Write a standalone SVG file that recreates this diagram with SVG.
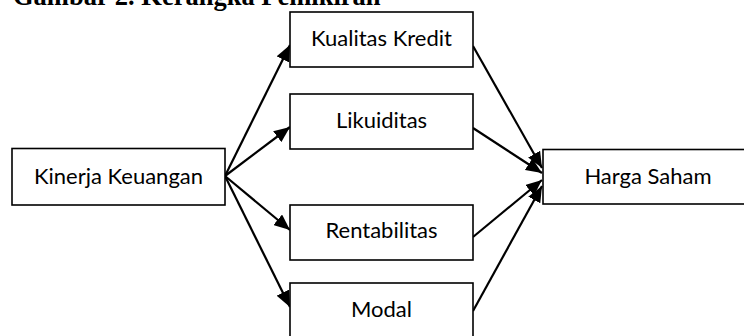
<svg xmlns="http://www.w3.org/2000/svg" width="744" height="336" viewBox="0 0 744 336">
<defs>
<style>
.box{fill:#fff;stroke:#000;stroke-width:1.6}
.lbl{font-family:"Lato","Open Sans",sans-serif;font-size:22px;fill:#000;text-anchor:middle}
.title{font-family:"Liberation Serif","Times New Roman",serif;font-size:26.5px;font-weight:bold;fill:#000}
.con{stroke:#000;stroke-width:2.2;fill:none;marker-end:url(#ah)}
</style>
<marker id="ah" markerUnits="userSpaceOnUse" markerWidth="16" markerHeight="14" refX="14" refY="6" orient="auto" viewBox="0 0 14 12">
<path d="M0,0 L14,6 L0,12 z" fill="#000"/>
</marker>
</defs>
<rect width="744" height="336" fill="#fff"/>
<text class="title" x="13" y="4.5">Gambar 2. Kerangka Pemikiran</text>
<g id="connectors">
<line class="con" x1="225" y1="176" x2="290" y2="45"/>
<line class="con" x1="225" y1="176" x2="290" y2="127"/>
<line class="con" x1="225" y1="176" x2="290" y2="230"/>
<line class="con" x1="225" y1="176" x2="290" y2="307"/>
<line class="con" x1="473" y1="46" x2="542" y2="168"/>
<line class="con" x1="473" y1="128" x2="542" y2="173"/>
<line class="con" x1="473" y1="237" x2="542" y2="180"/>
<line class="con" x1="473" y1="311" x2="542" y2="186"/>
</g>
<g id="kinerja">
<rect class="box" x="12" y="148.5" width="213" height="56.5"/>
<text class="lbl" x="118.5" y="184">Kinerja Keuangan</text>
</g>
<g id="kualitas">
<rect class="box" x="290" y="12" width="183" height="55"/>
<text class="lbl" x="381.5" y="46">Kualitas Kredit</text>
</g>
<g id="likuiditas">
<rect class="box" x="290" y="94" width="183" height="55"/>
<text class="lbl" x="381.5" y="127.5">Likuiditas</text>
</g>
<g id="rentabilitas">
<rect class="box" x="290" y="205" width="183" height="55"/>
<text class="lbl" x="381.5" y="238">Rentabilitas</text>
</g>
<g id="modal">
<rect class="box" x="290" y="283" width="183" height="60"/>
<text class="lbl" x="381.5" y="316.5">Modal</text>
</g>
<g id="harga">
<rect class="box" x="543" y="149.5" width="212" height="54.5"/>
<text class="lbl" x="648" y="183.5">Harga Saham</text>
</g>
</svg>
